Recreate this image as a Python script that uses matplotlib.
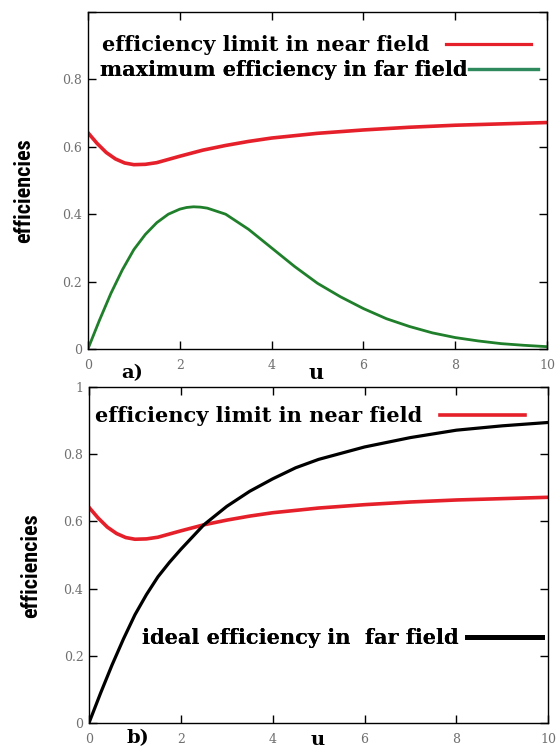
import numpy as np
import matplotlib
matplotlib.use('Agg')
import matplotlib.pyplot as plt
from matplotlib import font_manager
from matplotlib.lines import Line2D

# efficiency limit in near field (same curve in both panels)
u_near = [0, 0.2, 0.4, 0.6, 0.8, 1.0, 1.25, 1.5, 2.0, 2.5, 3.0, 3.5, 4.0, 5.0, 6.0, 7.0, 8.0, 9.0, 10.0]
eta_near = [0.642, 0.61, 0.583, 0.564, 0.552, 0.547, 0.548, 0.553, 0.572, 0.59, 0.604, 0.616,
            0.626, 0.640, 0.650, 0.658, 0.664, 0.668, 0.672]

# maximum efficiency in far field (panel a)
u_max = [0, 0.25, 0.5, 0.75, 1.0, 1.25, 1.5, 1.75, 2.0, 2.15, 2.3, 2.45, 2.6, 3.0, 3.5, 4.0, 4.5, 5.0,
         5.5, 6.0, 6.5, 7.0, 7.5, 8.0, 8.5, 9.0, 9.5, 10.0]
eta_max = [0, 0.085, 0.165, 0.235, 0.295, 0.34, 0.375, 0.40, 0.415, 0.42, 0.422, 0.421, 0.418, 0.40,
           0.355, 0.30, 0.245, 0.195, 0.155, 0.12, 0.09, 0.067, 0.048, 0.034, 0.024, 0.016, 0.011, 0.007]

# ideal efficiency in far field (panel b)
u_ideal = [0, 0.25, 0.5, 0.75, 1.0, 1.25, 1.5, 1.75, 2.0, 2.5, 3.0, 3.5, 4.0, 4.5, 5.0,
           6.0, 7.0, 8.0, 9.0, 10.0]
eta_ideal = [0, 0.088, 0.172, 0.25, 0.322, 0.382, 0.435, 0.478, 0.517, 0.59, 0.645, 0.69,
             0.727, 0.76, 0.785, 0.822, 0.85, 0.872, 0.885, 0.895]

xticks = [0, 2, 4, 6, 8, 10]
RED = '#e5202a'
GREEN = '#1f7f2a'


def pick_font(names):
    for n in names:
        try:
            font_manager.findfont(n, fallback_to_default=False)
            return n
        except Exception:
            pass
    return 'DejaVu Serif'


yfont = pick_font(['Liberation Sans Narrow', 'DejaVu Serif Condensed', 'DejaVu Sans Condensed',
                   'Roboto Condensed'])

fig = plt.figure(figsize=(5.6, 7.49), dpi=100)
ax1 = fig.add_axes([0.157, 0.534, 0.820, 0.450])
ax2 = fig.add_axes([0.159, 0.035, 0.820, 0.448])

legfont = dict(family='DejaVu Serif', weight='bold', size=15)


def entry(ax, color, lw, label, x, y, hl, pad):
    leg = ax.legend([Line2D([], [], color=color, lw=lw)], [label], loc='center left',
                    bbox_to_anchor=(x, y), borderaxespad=0, borderpad=0, frameon=False,
                    markerfirst=False, prop=legfont, handlelength=hl, handletextpad=pad)
    ax.add_artist(leg)


for ax in (ax1, ax2):
    ax.set_xlim(0, 10)
    ax.set_ylim(0, 1)
    ax.set_xticks(xticks)
    ax.tick_params(direction='in', top=True, right=True, length=6, width=1,
                   labelsize=9, labelcolor='#707070')
    ax.tick_params(axis='x', pad=7)
    ax.tick_params(axis='y', pad=4)
    for s in ax.spines.values():
        s.set_linewidth(1.0)
    ax.set_ylabel('efficiencies', fontsize=16, family=yfont, fontstretch='condensed',
                  fontweight='bold')

# panel a
ax1.set_yticks([0, 0.2, 0.4, 0.6, 0.8, 1.0])
ax1.set_yticklabels(['0', '0.2', '0.4', '0.6', '0.8', ''])
ax1.set_xticklabels([str(t) for t in xticks])
ax1.plot(u_near, eta_near, color=RED, lw=2.6)
ax1.plot(u_max, eta_max, color=GREEN, lw=2.0)
entry(ax1, RED, 2.3, 'efficiency limit in near field', 0.030, 0.902, 4.1, 0.8)
entry(ax1, '#2e8a5c', 2.3, 'maximum efficiency in far field', 0.026, 0.828, 3.3, 0.1)
ax1.yaxis.set_label_coords(-0.115, 0.47)
ax1.text(0.96, -0.072, 'a)', transform=ax1.get_xaxis_transform(), ha='center', va='center',
         family='DejaVu Serif', weight='bold', fontsize=14)
ax1.text(4.97, -0.072, 'u', transform=ax1.get_xaxis_transform(), ha='center', va='center',
         family='DejaVu Serif', weight='bold', fontsize=15)

# panel b
ax2.set_yticks([0, 0.2, 0.4, 0.6, 0.8, 1.0])
ax2.set_yticklabels(['0', '0.2', '0.4', '0.6', '0.8', '1'])
ax2.set_xticklabels([str(t) for t in xticks])
ax2.plot(u_near, eta_near, color=RED, lw=2.6)
ax2.plot(u_ideal, eta_ideal, color='black', lw=2.3)
entry(ax2, RED, 2.6, 'efficiency limit in near field', 0.013, 0.914, 4.1, 0.85)
entry(ax2, 'black', 3.5, 'ideal efficiency in  far field', 0.115, 0.253, 3.6, 0.4)
ax2.yaxis.set_label_coords(-0.102, 0.467)
ax2.text(1.06, -0.047, 'b)', transform=ax2.get_xaxis_transform(), ha='center', va='center',
         family='DejaVu Serif', weight='bold', fontsize=14)
ax2.text(4.97, -0.052, 'u', transform=ax2.get_xaxis_transform(), ha='center', va='center',
         family='DejaVu Serif', weight='bold', fontsize=14)

for ax in (ax1, ax2):
    for lab in ax.get_xticklabels() + ax.get_yticklabels():
        lab.set_family('DejaVu Serif')

fig.savefig('out.png', dpi=100)
